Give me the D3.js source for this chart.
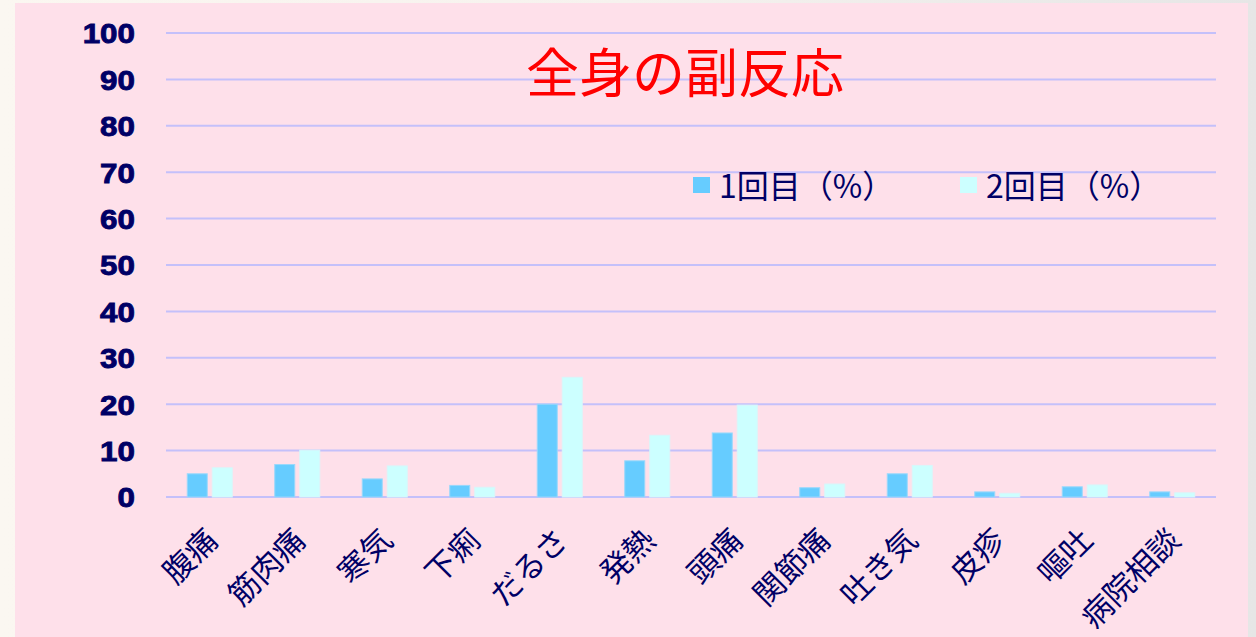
<!DOCTYPE html>
<html>
<head>
<meta charset="utf-8">
<script src="https://cdn.jsdelivr.net/npm/d3@7"></script>
<style>
  html, body { margin: 0; padding: 0; }
  body {
    width: 1256px; height: 637px; overflow: hidden;
    background: linear-gradient(to right, #fbf7f1 0%, #f6f2ee 50%, #e6e6e6 100%);
  }
</style>
</head>
<body>
<div id="chart"></div>
<script>
'use strict';

// categories and values (percent)
var categories = ["腹痛", "筋肉痛", "寒気", "下痢", "だるさ", "発熱", "頭痛", "関節痛", "吐き気", "皮疹", "嘔吐", "病院相談"];
var seriesNames = ["1回目（%）", "2回目（%）"];
var dose1 = [5.0, 7.0, 3.9, 2.5, 20.0, 7.8, 13.8, 2.0, 5.0, 1.1, 2.2, 1.1];
var dose2 = [6.3, 10.1, 6.7, 2.1, 25.8, 13.3, 19.8, 2.8, 6.8, 0.8, 2.6, 0.9];
var yTicks = [0, 10, 20, 30, 40, 50, 60, 70, 80, 90, 100];
var title = "全身の副反応";

var width = 1256, height = 637;
var colors = ["#66ccff", "#ccffff"];
var navy = "#000066";
var jp = "'Noto Sans CJK JP', 'Noto Sans', sans-serif";

var svg = d3.select("#chart").append("svg")
    .attr("width", width)
    .attr("height", height);

// pink panel
svg.append("rect")
    .attr("x", 15).attr("y", 3)
    .attr("width", 1233).attr("height", 640)
    .attr("fill", "#fee0ea");

// scales
var x = d3.scaleBand().domain(categories).range([166, 1216]).padding(0);
var x1 = d3.scaleBand().domain([0, 1]).range([0, 45]).paddingInner(0.2);
var y = d3.scaleLinear().domain([0, 100]).range([497, 33]);

// gridlines
svg.append("g")
    .selectAll("line")
    .data(yTicks)
    .enter().append("line")
    .attr("x1", 166).attr("x2", 1216)
    .attr("y1", function(d) { return y(d); })
    .attr("y2", function(d) { return y(d); })
    .attr("stroke", "#c4c0fa")
    .attr("stroke-width", 2);

// y axis labels
var yAxis = svg.append("g")
    .attr("transform", "translate(135,0)")
    .call(d3.axisLeft(y).tickValues(yTicks).tickSize(0).tickPadding(0));
yAxis.select(".domain").remove();
yAxis.selectAll("text")
    .attr("x", 0)
    .attr("dy", "0.35em")
    .attr("transform", "scale(1.12,1)")
    .style("font-family", "'Liberation Sans', Arial, sans-serif")
    .style("font-weight", "bold")
    .style("font-size", "28px")
    .style("fill", navy)
    .style("stroke", navy)
    .style("stroke-width", "0.9px");

// bars
var data = categories.map(function(c, i) { return {cat: c, vals: [dose1[i], dose2[i]]}; });
var groups = svg.append("g")
    .selectAll("g")
    .data(data)
    .enter().append("g")
    .attr("transform", function(d) { return "translate(" + (x(d.cat) + x.bandwidth() / 2 - 22.5) + ",0)"; });

groups.selectAll("rect")
    .data(function(d) { return d.vals.map(function(v, j) { return {v: v, j: j}; }); })
    .enter().append("rect")
    .attr("x", function(d) { return x1(d.j); })
    .attr("width", x1.bandwidth())
    .attr("y", function(d) { return y(d.v); })
    .attr("height", function(d) { return y(0) - y(d.v); })
    .attr("fill", function(d) { return colors[d.j]; })
    .attr("stroke", function(d) { return d.j === 0 ? "#9ad8fb" : "#d8f6fa"; })
    .attr("stroke-width", 1);

// category labels
svg.append("g")
    .selectAll("text")
    .data(categories)
    .enter().append("text")
    .attr("transform", function(d) {
        return "translate(" + (x(d) + x.bandwidth() / 2 + 10) + ",542) rotate(-45)";
    })
    .attr("text-anchor", "end")
    .style("font-family", jp)
    .style("font-size", "31px")
    .style("fill", navy)
    .text(function(d) { return d; });

// title
svg.append("text")
    .attr("x", 685).attr("y", 93)
    .attr("text-anchor", "middle")
    .style("font-family", jp)
    .style("font-size", "53px")
    .style("fill", "#ff0000")
    .text(title);

// legend
var legendX = [693, 960];
var legend = svg.append("g")
    .selectAll("g")
    .data(seriesNames)
    .enter().append("g")
    .attr("transform", function(d, i) { return "translate(" + legendX[i] + ",0)"; });
legend.append("rect")
    .attr("x", 0).attr("y", 177)
    .attr("width", 17).attr("height", 16)
    .attr("fill", function(d, i) { return colors[i]; });
legend.append("text")
    .attr("x", 26).attr("y", 198)
    .style("font-family", jp)
    .style("font-size", "32px")
    .style("fill", navy)
    .text(function(d) { return d; });
</script>
</body>
</html>
